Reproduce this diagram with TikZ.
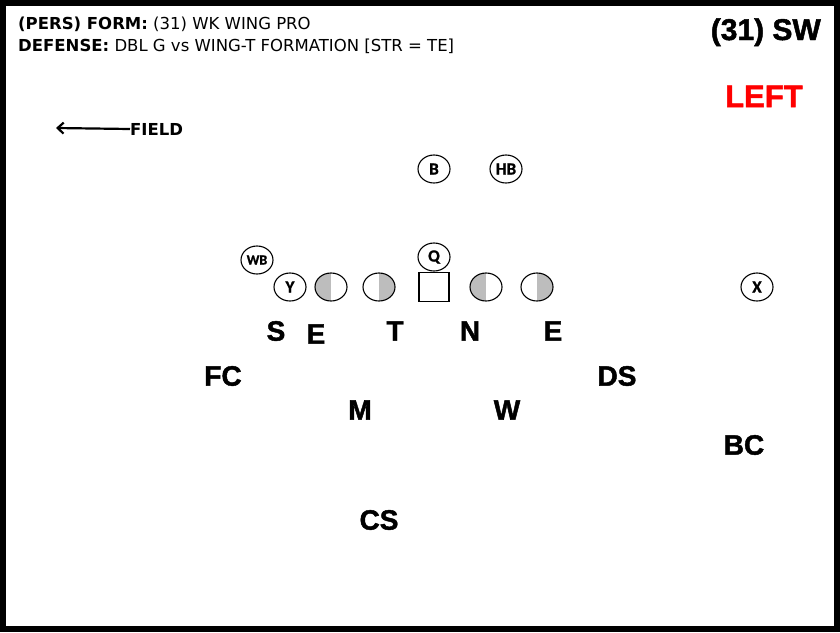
\documentclass[tikz,border=0pt]{standalone}
\usepackage{fontspec}
\setmainfont{DejaVu Sans}
\newfontfamily\arialf{Liberation Sans}[BoldFeatures={FakeBold=1.6}]
\newfontfamily\calf{Carlito}[BoldFeatures={FakeBold=1.2}]
\usetikzlibrary{arrows.meta,shapes.geometric}
\definecolor{shadegray}{HTML}{BDBDBD}
\definecolor{leftred}{HTML}{FF0000}
\begin{document}
\begin{tikzpicture}[x=1pt,y=-1pt,
  player/.style={draw,line width=1.1pt,ellipse,minimum width=32pt,minimum height=28pt,inner sep=0pt,font=\calf\bfseries\fontsize{17}{17}\selectfont},
  lineman/.style={player},
  halfL/.style={path picture={\fill[shadegray] (path picture bounding box.south west) rectangle (path picture bounding box.north);}},
  halfR/.style={path picture={\fill[shadegray] (path picture bounding box.south) rectangle (path picture bounding box.north east);}},
  centerbox/.style={draw,line width=1.1pt,rectangle,minimum width=30pt,minimum height=29pt,inner sep=0pt},
  deflab/.style={font=\arialf\bfseries\fontsize{28}{28}\selectfont,inner sep=0pt},
  header/.style={anchor=base west,inner sep=0pt,font=\fontsize{16.5}{16.5}\selectfont}
]
\useasboundingbox (0,0) rectangle (840,632);
\fill[white] (0,0) rectangle (840,632);
\draw[line width=6pt] (3,3) rectangle (837,629);

\node[header] (h1) at (18,29) {\textbf{(PERS) FORM:} (31) WK WING PRO};
\node[header] (h2) at (18,51) {\textbf{DEFENSE:} DBL G vs WING-T FORMATION [STR = TE]};

\node[anchor=base east,inner sep=0pt,font=\arialf\bfseries\fontsize{30}{30}\selectfont] (sw) at (821,40) {(31) SW};
\node[anchor=base west,inner sep=0pt,text=leftred,font=\arialf\bfseries\fontsize{31}{31}\selectfont] (left) at (725,107) {LEFT};

\node[anchor=west,inner sep=0pt,font=\bfseries\fontsize{16.5}{16.5}\selectfont] (field) at (130,129) {FIELD};
\coordinate (fa) at (56,128);
\draw[line width=2.2pt,-{Straight Barb[length=6pt,width=11pt]}] (field.west) -- (fa);

% offense
\node[player] (b) at (434,169) {B};
\node[player] (hb) at (506,169) {HB};
\node[player,font=\calf\bfseries\fontsize{14}{14}\selectfont] (wb) at (257,260) {WB};
\node[player] (q) at (434,257) {Q};
\node[player] (y) at (290,287) {Y};
\node[lineman,halfL] (lt) at (331,287) {};
\node[lineman,halfR] (lg) at (379,287) {};
\node[centerbox] (c) at (434,287) {};
\node[lineman,halfL] (rg) at (486,287) {};
\node[lineman,halfR] (rt) at (537,287) {};
\node[player] (x) at (757,287) {X};

% defense
\node[deflab] (s) at (276,331) {S};
\node[deflab] (e1) at (316,334) {E};
\node[deflab] (t) at (395,331) {T};
\node[deflab] (n) at (470,331) {N};
\node[deflab] (e2) at (553,331) {E};
\node[deflab] (fc) at (223,376) {FC};
\node[deflab] (ds) at (617,376) {DS};
\node[deflab] (m) at (360,410) {M};
\node[deflab] (w) at (507,410) {W};
\node[deflab] (bc) at (744,445) {BC};
\node[deflab] (cs) at (379,520) {CS};
\end{tikzpicture}
\end{document}
